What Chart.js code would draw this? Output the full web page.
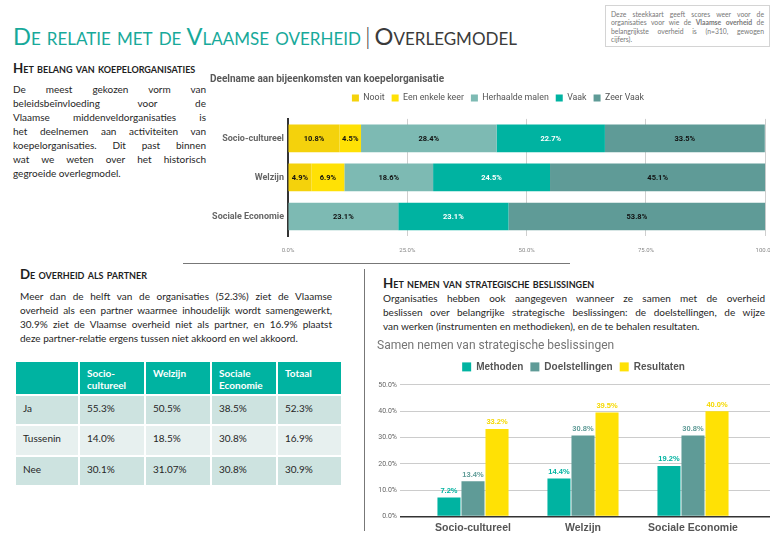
<!DOCTYPE html>
<html>
<head>
<meta charset="utf-8">
<script src="https://cdn.jsdelivr.net/npm/chart.js@4.4.1/dist/chart.umd.min.js"></script>
<style>
html, body { margin: 0; padding: 0; background: #fff; }
body { width: 770px; height: 538px; overflow: hidden; position: relative; font-family: Lato, sans-serif; color: #262626; }
.abs { position: absolute; }
.title { left: 13px; top: 24px; font-size: 23.6px; line-height: 24px; font-variant: small-caps; white-space: nowrap; color: #17a99a; }
.title .dark { color: #3b3b3b; }
.title .bar { color: #3b3b3b; font-weight: 300; margin: 0 4px; }
.info { left: 605px; top: 5px; width: 153px; height: 32px; padding: 4px 5px; border: 1px solid #d4d4d4; font-size: 6.8px; line-height: 8.3px; color: #777; }
.head { font-weight: bold; font-variant: small-caps; font-size: 13.3px; color: #1e1e1e; white-space: nowrap; }
.para { font-size: 10px; line-height: 14px; }
.jl { text-align: justify; text-align-last: justify; }
.sep-h { left: 183px; top: 263px; width: 387px; height: 1px; background: #777; }
.sep-v { left: 364px; top: 269px; width: 1px; height: 262px; background: #777; }
.grid { left: 16px; top: 362px; display: grid; grid-template-columns: 62px 64px 64px 64px 63px; grid-template-rows: 32px 28px 29px 28px; gap: 2px; font-size: 10px; }
.grid div { padding: 4px 7px; line-height: 12px; box-sizing: border-box; }
.grid .th { background: #00b3a1; color: #fff; font-weight: bold; padding-top: 5px; }
.grid .r1 { background: #cde3e0; padding-top: 6px; }
.grid .r2 { background: #e7f0ef; padding-top: 6px; }
canvas { position: absolute; }
</style>
</head>
<body>

<div class="abs title">De relatie met de Vlaamse overheid<span class="bar">|</span><span class="dark">Overlegmodel</span></div>

<div class="abs info">
  <div class="jl">Deze steekkaart geeft scores weer voor de</div>
  <div class="jl">organisaties voor wie de <b>Vlaamse overheid</b> de</div>
  <div class="jl">belangrijkste overheid is (n=310, gewogen</div>
  <div>cijfers).</div>
</div>

<div class="abs head" style="left:13px; top:60px;">Het belang van koepelorganisaties</div>
<div class="abs para" style="left:13px; top:82px; width:193px;">
  <div class="jl">De meest gekozen vorm van</div>
  <div class="jl">beleidsbeïnvloeding voor de</div>
  <div class="jl">Vlaamse middenveldorganisaties is</div>
  <div class="jl">het deelnemen aan activiteiten van</div>
  <div class="jl">koepelorganisaties. Dit past binnen</div>
  <div class="jl">wat we weten over het historisch</div>
  <div>gegroeide overlegmodel.</div>
</div>

<canvas id="koepel" width="586" height="192" style="left:200px; top:66px;"></canvas>

<div class="abs sep-h"></div>
<div class="abs sep-v"></div>

<div class="abs head" style="left:20px; top:266px;">De overheid als partner</div>
<div class="abs para" style="left:20px; top:289px; width:312px;">
  <div class="jl">Meer dan de helft van de organisaties (52.3%) ziet de Vlaamse</div>
  <div class="jl">overheid als een partner waarmee inhoudelijk wordt samengewerkt,</div>
  <div class="jl">30.9% ziet de Vlaamse overheid niet als partner, en 16.9% plaatst</div>
  <div>deze partner-relatie ergens tussen niet akkoord en wel akkoord.</div>
</div>

<div class="abs grid" id="partnerTable"></div>

<div class="abs head" style="left:383px; top:275px;">Het nemen van strategische beslissingen</div>
<div class="abs para" style="left:383px; top:291px; width:382px;">
  <div class="jl">Organisaties hebben ook aangegeven wanneer ze samen met de overheid</div>
  <div class="jl">beslissen over belangrijke strategische beslissingen: de doelstellingen, de wijze</div>
  <div>van werken (instrumenten en methodieken), en de te behalen resultaten.</div>
</div>

<canvas id="beslis" width="402" height="200" style="left:368px; top:338px;"></canvas>

<script>
// koepelorganisaties (gestapeld, %)
const koepelCategories = ['Socio-cultureel', 'Welzijn', 'Sociale Economie'];
const koepelTicks = [0, 25, 50, 75, 100];
const nooit = [10.8, 4.9, 0];
const eenEnkeleKeer = [4.5, 6.9, 0];
const herhaaldeMalen = [28.4, 18.6, 23.1];
const vaak = [22.7, 24.5, 23.1];
const zeerVaak = [33.5, 45.1, 53.8];

// strategische beslissingen (%)
const beslisCategories = ['Socio-cultureel', 'Welzijn', 'Sociale Economie'];
const beslisTicks = [0, 10, 20, 30, 40, 50];
const methoden = [7.2, 14.4, 19.2];
const doelstellingen = [13.4, 30.8, 30.8];
const resultaten = [33.2, 39.5, 40.0];

// tabel partner
const tableHeader = ['', 'Socio-<br>cultureel', 'Welzijn', 'Sociale<br>Economie', 'Totaal'];
const rowJa = ['Ja', '55.3%', '50.5%', '38.5%', '52.3%'];
const rowTussenin = ['Tussenin', '14.0%', '18.5%', '30.8%', '16.9%'];
const rowNee = ['Nee', '30.1%', '31.07%', '30.8%', '30.9%'];

const table = document.getElementById('partnerTable');
[[tableHeader, 'th'], [rowJa, 'r1'], [rowTussenin, 'r2'], [rowNee, 'r1']].forEach(([row, cls]) => {
  row.forEach(txt => {
    const cell = document.createElement('div');
    cell.className = cls;
    cell.innerHTML = txt;
    table.appendChild(cell);
  });
});

// labels in / boven de balken
const barLabels = {
  id: 'barLabels',
  afterDatasetsDraw(chart, args, opts) {
    const ctx = chart.ctx;
    ctx.save();
    ctx.font = opts.font;
    ctx.textAlign = 'center';
    chart.data.datasets.forEach((ds, i) => {
      const meta = chart.getDatasetMeta(i);
      meta.data.forEach((bar, j) => {
        const v = ds.data[j];
        if (!v) return;
        ctx.fillStyle = ds.labelColor;
        const txt = v.toFixed(1) + '%';
        if (opts.inside) {
          const c = bar.getCenterPoint();
          ctx.textBaseline = 'middle';
          ctx.fillText(txt, c.x, c.y + 0.5);
        } else {
          ctx.textBaseline = 'bottom';
          ctx.fillText(txt, bar.x, bar.y - 3);
        }
      });
    });
    ctx.restore();
  }
};

new Chart(document.getElementById('koepel'), {
  type: 'bar',
  data: {
    labels: koepelCategories,
    datasets: [
      { label: 'Nooit', data: nooit, backgroundColor: '#f4d20c', labelColor: '#111' },
      { label: 'Een enkele keer', data: eenEnkeleKeer, backgroundColor: '#ffe105', labelColor: '#111' },
      { label: 'Herhaalde malen', data: herhaaldeMalen, backgroundColor: '#7dbab3', labelColor: '#111' },
      { label: 'Vaak', data: vaak, backgroundColor: '#00b3a1', labelColor: '#fff' },
      { label: 'Zeer Vaak', data: zeerVaak, backgroundColor: '#5f9b97', labelColor: '#111' }
    ]
  },
  plugins: [barLabels],
  options: {
    indexAxis: 'y',
    responsive: false,
    animation: false,
    layout: { padding: { left: 10, right: 0, bottom: 0 } },
    datasets: { bar: { categoryPercentage: 1, barPercentage: 0.71 } },
    plugins: {
      barLabels: { inside: true, font: 'bold 7.5px Roboto' },
      title: {
        display: true, text: 'Deelname aan bijeenkomsten van koepelorganisatie', align: 'start',
        color: '#595959', font: { family: 'Roboto', size: 10, weight: 'bold' }, padding: { top: 7, bottom: 1.5 }
      },
      subtitle: { display: true, text: '', font: { size: 5.5 }, padding: 0 },
      legend: {
        weight: 1700,
        labels: { boxWidth: 7, boxHeight: 7, padding: 7, color: '#555', font: { family: 'Roboto', size: 8.8 } }
      },
      tooltip: { enabled: false }
    },
    scales: {
      x: {
        stacked: true, min: koepelTicks[0], max: koepelTicks[koepelTicks.length - 1],
        afterBuildTicks: s => { s.ticks = koepelTicks.map(v => ({ value: v })); },
        afterFit: s => { s.height = 22; },
        ticks: { callback: v => v.toFixed(1) + '%', color: '#888', font: { family: 'Roboto', size: 6 }, padding: 11, maxRotation: 0 },
        grid: { color: '#cfcfcf', drawTicks: false },
        border: { display: false }
      },
      y: {
        stacked: true,
        afterFit: s => { s.width = 78; },
        ticks: { color: '#666', font: { family: 'Roboto', size: 9, weight: 'bold' }, padding: 4 },
        grid: { display: false, drawTicks: false },
        border: { color: '#333', width: 2 }
      }
    }
  }
});

const gridColor = c => (c.tick && c.tick.value === 0) ? '#333' : '#cccccc';
const gridWidth = c => (c.tick && c.tick.value === 0) ? 1.5 : 1;

new Chart(document.getElementById('beslis'), {
  type: 'bar',
  data: {
    labels: beslisCategories,
    datasets: [
      { label: 'Methoden', data: methoden, backgroundColor: '#00b3a1', labelColor: '#00b3a1' },
      { label: 'Doelstellingen', data: doelstellingen, backgroundColor: '#5f9b97', labelColor: '#5f9b97' },
      { label: 'Resultaten', data: resultaten, backgroundColor: '#ffe105', labelColor: '#f5d800' }
    ]
  },
  plugins: [barLabels],
  options: {
    responsive: false,
    animation: false,
    layout: { padding: { left: 9, bottom: 2 } },
    datasets: { bar: { categoryPercentage: 0.655, barPercentage: 0.96 } },
    plugins: {
      barLabels: { inside: false, font: 'bold 7.5px "Liberation Sans"' },
      title: {
        display: true, text: 'Samen nemen van strategische beslissingen', align: 'start',
        color: '#757575', font: { family: 'Roboto', size: 12, weight: 'normal' }, padding: { top: 1, bottom: 1.5 }
      },
      subtitle: { display: true, text: '', font: { size: 2.5 }, padding: 0 },
      legend: {
        weight: 1700,
        labels: { boxWidth: 9, boxHeight: 9, padding: 7, color: '#555', font: { family: 'Liberation Sans', size: 10, weight: 'bold' } }
      },
      tooltip: { enabled: false }
    },
    scales: {
      x: {
        afterFit: s => { s.height = 19.5; },
        ticks: { color: '#555', font: { family: 'Liberation Sans', size: 10.5, weight: 'bold' }, padding: 5 },
        grid: { display: false, drawTicks: false },
        border: { display: false }
      },
      y: {
        min: beslisTicks[0], max: beslisTicks[beslisTicks.length - 1],
        afterBuildTicks: s => { s.ticks = beslisTicks.map(v => ({ value: v })); },
        afterFit: s => { s.width = 41; },
        ticks: { callback: v => v.toFixed(1) + '%', color: '#666', font: { family: 'Roboto', size: 7 }, padding: 3 },
        grid: { color: gridColor, lineWidth: gridWidth, tickLength: 18 },
        border: { display: false }
      },
      yRight: {
        position: 'right',
        min: beslisTicks[0], max: beslisTicks[beslisTicks.length - 1],
        afterBuildTicks: s => { s.ticks = beslisTicks.map(v => ({ value: v })); },
        afterFit: s => { s.width = 22; },
        ticks: { display: false },
        grid: { color: gridColor, lineWidth: gridWidth, tickLength: 22, drawOnChartArea: false },
        border: { display: false }
      }
    }
  }
});
</script>
</body>
</html>
